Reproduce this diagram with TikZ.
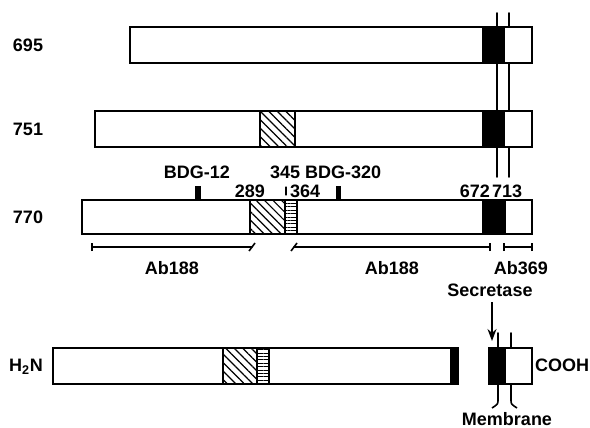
\documentclass[tikz,border=0pt]{standalone}
\usepackage{fontspec}
\setmainfont{Liberation Sans}
\usepackage{tkz-euclide}
\usetikzlibrary{arrows.meta, patterns.meta}

\begin{document}
\begin{tikzpicture}[x=1pt, y=-1pt,
    lbl/.style={font=\bfseries\fontsize{18}{20}\selectfont, inner sep=0pt},
    box/.style={line width=2.2pt, fill=white},
    tm/.style={line width=1.6pt},
    diag/.style={pattern={Lines[angle=-45, distance=6pt, line width=1.2pt]}},
    horiz/.style={pattern={Lines[angle=0, distance=3.4pt, line width=1pt]}}]
    \useasboundingbox (0,0) rectangle (590,428);
    % membrane lines behind the bars
    \tkzDefPoints{497/13/m1, 497/177/m2, 509/13/n1, 509/177/n2}
    \tkzDrawSegments[tm](m1,m2 n1,n2)
    % 695
    \draw[box] (130,27) rectangle (532,63);
    \fill (482,27) rectangle (505,63);
    \node[lbl] (i695) at (28,45) {695};
    % 751
    \draw[box] (95,111) rectangle (532,147);
    \fill[diag] (260,111) rectangle (295,147);
    \draw[tm] (260,111) rectangle (295,147);
    \fill (482,111) rectangle (505,147);
    \node[lbl] (i751) at (28,129) {751};
    % 770
    \draw[box] (82,200) rectangle (532,234);
    \fill[diag] (250,200) rectangle (285,234);
    \fill[horiz] (285,200) rectangle (297,234);
    \draw[tm] (250,200) rectangle (297,234) (285,200) -- (285,234);
    \fill (482,200) rectangle (506,234);
    \fill (195,186) rectangle (201,200);
    \fill (336,186) rectangle (341,200);
    \node[lbl] (i770) at (28,217) {770};
    \node[lbl] (bdg12) at (197,172) {BDG-12};
    \node[lbl, anchor=west] (a345) at (270,172) {345};
    \node[lbl, anchor=west] (bdg320) at (305,172) {BDG-320};
    \node[lbl, anchor=east] (a289) at (265,191) {289};
    \node[lbl, anchor=west] (a364) at (290,191) {364};
    \node[lbl, anchor=east] (a672) at (490,191) {672};
    \node[lbl, anchor=west] (a713) at (492,191) {713};
    \tkzDefPoints{286/187/k1, 286/195/k2}
    \tkzDrawSegments[line width=1.2pt](k1,k2)
    % antibody ranges
    \tkzDefPoints{92/247/b1, 252/247/b2, 294/247/b3, 490/247/b4, 504/247/b5, 532/247/b6}
    \tkzDrawSegments[tm](b1,b2 b3,b4 b5,b6)
    \foreach \p in {b1,b4,b5,b6}
        \draw[tm] ([yshift=-4pt]\p) -- ([yshift=4pt]\p);
    \foreach \p in {b2,b3}
        \draw[tm] ([xshift=-3pt,yshift=-4pt]\p) -- ([xshift=3pt,yshift=4pt]\p);
    \node[lbl] (ab1) at (172,268) {Ab188};
    \node[lbl] (ab2) at (392,268) {Ab188};
    \node[lbl] (ab3) at (521,268) {Ab369};
    % secreted form and stub
    \node[lbl] (sec) at (490,290) {Secretase};
    \tkzDefPoints{492/302/s1, 492/341/s2}
    \draw[-{Stealth[length=12pt,width=9pt]}, line width=1.5pt] (s1) -- (s2);
    \draw[box] (53,348) rectangle (458,384);
    \fill[diag] (223,348) rectangle (257,384);
    \fill[horiz] (257,348) rectangle (269,384);
    \draw[tm] (223,348) rectangle (269,384) (257,348) -- (257,384);
    \fill (450,348) rectangle (458,384);
    \tkzDefPoints{498/333/u1, 498/348/u2, 511/333/v1, 511/348/v2}
    \tkzDrawSegments[tm](u1,u2 v1,v2)
    \tkzDefPoints{498/384/u3, 498/400/u4, 492/408/u5, 511/384/v3, 511/400/v4, 517/408/v5}
    \draw[tm] (u3) -- (u4) .. controls (498,404) .. (u5);
    \draw[tm] (v3) -- (v4) .. controls (511,404) .. (v5);
    \draw[box] (489,348) rectangle (532,384);
    \fill (489,348) rectangle (506,384);
    \node[lbl] (hn) at (26,367) {H$_{\mathbf 2}$N};
    \node[lbl, anchor=west] (cooh) at (535,365) {COOH};
    \node[lbl] (mem) at (507,419) {Membrane};
\end{tikzpicture}
\end{document}
